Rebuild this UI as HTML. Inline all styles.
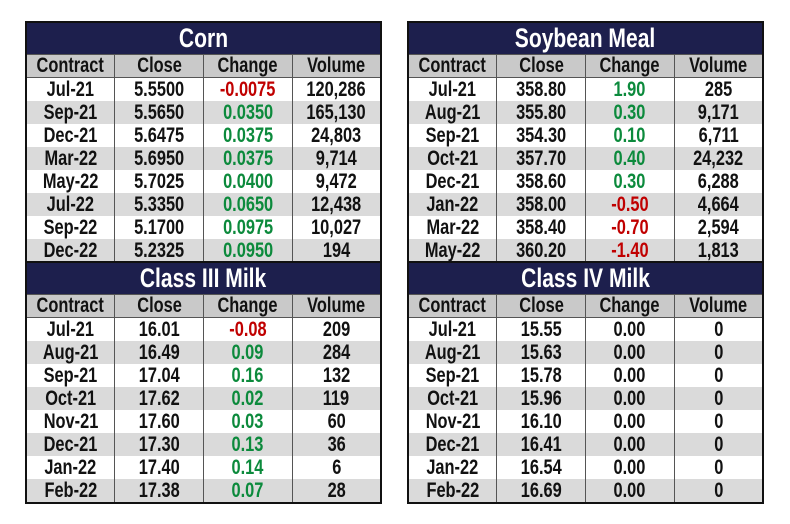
<!DOCTYPE html><html><head><style>
body{margin:0;width:790px;height:524px;background:#fff;position:relative;font-family:"Liberation Sans",sans-serif;font-weight:bold;}
table{position:absolute;border-collapse:collapse;border:2px solid #111;width:357px;table-layout:fixed}
td,th{padding:0;text-align:center;font-size:21px;height:23px;line-height:23px;border-left:1px solid #555;border-right:1px solid #555;color:#111;overflow:hidden;white-space:nowrap}
td span,th span{display:inline-block;transform:scaleX(0.78)}
th.t{background:#1d1f4d;color:#fff;font-size:27px;height:31px;line-height:31px;border:none}
tr.h td{background:#c9c9c9;height:22px;line-height:22px;border-bottom:1px solid #555;border-top:1px solid #555}
tr:nth-child(even):not(.h) td{background:#dadada}
.g{color:#0c8a3c}.r{color:#c00000}
</style></head><body>
<table style="left:25px;top:21px"><tr><th class="t" colspan="4"><span>Corn</span></th></tr>
<tr class="h"><td><span>Contract</span></td><td><span>Close</span></td><td><span>Change</span></td><td><span>Volume</span></td></tr>
<tr><td><span>Jul-21</span></td><td><span>5.5500</span></td><td class="r"><span>-0.0075</span></td><td><span>120,286</span></td></tr>
<tr><td><span>Sep-21</span></td><td><span>5.5650</span></td><td class="g"><span>0.0350</span></td><td><span>165,130</span></td></tr>
<tr><td><span>Dec-21</span></td><td><span>5.6475</span></td><td class="g"><span>0.0375</span></td><td><span>24,803</span></td></tr>
<tr><td><span>Mar-22</span></td><td><span>5.6950</span></td><td class="g"><span>0.0375</span></td><td><span>9,714</span></td></tr>
<tr><td><span>May-22</span></td><td><span>5.7025</span></td><td class="g"><span>0.0400</span></td><td><span>9,472</span></td></tr>
<tr><td><span>Jul-22</span></td><td><span>5.3350</span></td><td class="g"><span>0.0650</span></td><td><span>12,438</span></td></tr>
<tr><td><span>Sep-22</span></td><td><span>5.1700</span></td><td class="g"><span>0.0975</span></td><td><span>10,027</span></td></tr>
<tr><td><span>Dec-22</span></td><td><span>5.2325</span></td><td class="g"><span>0.0950</span></td><td><span>194</span></td></tr>
</table>
<table style="left:407px;top:21px"><tr><th class="t" colspan="4"><span>Soybean Meal</span></th></tr>
<tr class="h"><td><span>Contract</span></td><td><span>Close</span></td><td><span>Change</span></td><td><span>Volume</span></td></tr>
<tr><td><span>Jul-21</span></td><td><span>358.80</span></td><td class="g"><span>1.90</span></td><td><span>285</span></td></tr>
<tr><td><span>Aug-21</span></td><td><span>355.80</span></td><td class="g"><span>0.30</span></td><td><span>9,171</span></td></tr>
<tr><td><span>Sep-21</span></td><td><span>354.30</span></td><td class="g"><span>0.10</span></td><td><span>6,711</span></td></tr>
<tr><td><span>Oct-21</span></td><td><span>357.70</span></td><td class="g"><span>0.40</span></td><td><span>24,232</span></td></tr>
<tr><td><span>Dec-21</span></td><td><span>358.60</span></td><td class="g"><span>0.30</span></td><td><span>6,288</span></td></tr>
<tr><td><span>Jan-22</span></td><td><span>358.00</span></td><td class="r"><span>-0.50</span></td><td><span>4,664</span></td></tr>
<tr><td><span>Mar-22</span></td><td><span>358.40</span></td><td class="r"><span>-0.70</span></td><td><span>2,594</span></td></tr>
<tr><td><span>May-22</span></td><td><span>360.20</span></td><td class="r"><span>-1.40</span></td><td><span>1,813</span></td></tr>
</table>
<table style="left:25px;top:261px"><tr><th class="t" colspan="4"><span>Class III Milk</span></th></tr>
<tr class="h"><td><span>Contract</span></td><td><span>Close</span></td><td><span>Change</span></td><td><span>Volume</span></td></tr>
<tr><td><span>Jul-21</span></td><td><span>16.01</span></td><td class="r"><span>-0.08</span></td><td><span>209</span></td></tr>
<tr><td><span>Aug-21</span></td><td><span>16.49</span></td><td class="g"><span>0.09</span></td><td><span>284</span></td></tr>
<tr><td><span>Sep-21</span></td><td><span>17.04</span></td><td class="g"><span>0.16</span></td><td><span>132</span></td></tr>
<tr><td><span>Oct-21</span></td><td><span>17.62</span></td><td class="g"><span>0.02</span></td><td><span>119</span></td></tr>
<tr><td><span>Nov-21</span></td><td><span>17.60</span></td><td class="g"><span>0.03</span></td><td><span>60</span></td></tr>
<tr><td><span>Dec-21</span></td><td><span>17.30</span></td><td class="g"><span>0.13</span></td><td><span>36</span></td></tr>
<tr><td><span>Jan-22</span></td><td><span>17.40</span></td><td class="g"><span>0.14</span></td><td><span>6</span></td></tr>
<tr><td><span>Feb-22</span></td><td><span>17.38</span></td><td class="g"><span>0.07</span></td><td><span>28</span></td></tr>
</table>
<table style="left:407px;top:261px"><tr><th class="t" colspan="4"><span>Class IV Milk</span></th></tr>
<tr class="h"><td><span>Contract</span></td><td><span>Close</span></td><td><span>Change</span></td><td><span>Volume</span></td></tr>
<tr><td><span>Jul-21</span></td><td><span>15.55</span></td><td><span>0.00</span></td><td><span>0</span></td></tr>
<tr><td><span>Aug-21</span></td><td><span>15.63</span></td><td><span>0.00</span></td><td><span>0</span></td></tr>
<tr><td><span>Sep-21</span></td><td><span>15.78</span></td><td><span>0.00</span></td><td><span>0</span></td></tr>
<tr><td><span>Oct-21</span></td><td><span>15.96</span></td><td><span>0.00</span></td><td><span>0</span></td></tr>
<tr><td><span>Nov-21</span></td><td><span>16.10</span></td><td><span>0.00</span></td><td><span>0</span></td></tr>
<tr><td><span>Dec-21</span></td><td><span>16.41</span></td><td><span>0.00</span></td><td><span>0</span></td></tr>
<tr><td><span>Jan-22</span></td><td><span>16.54</span></td><td><span>0.00</span></td><td><span>0</span></td></tr>
<tr><td><span>Feb-22</span></td><td><span>16.69</span></td><td><span>0.00</span></td><td><span>0</span></td></tr>
</table>
</body></html>
